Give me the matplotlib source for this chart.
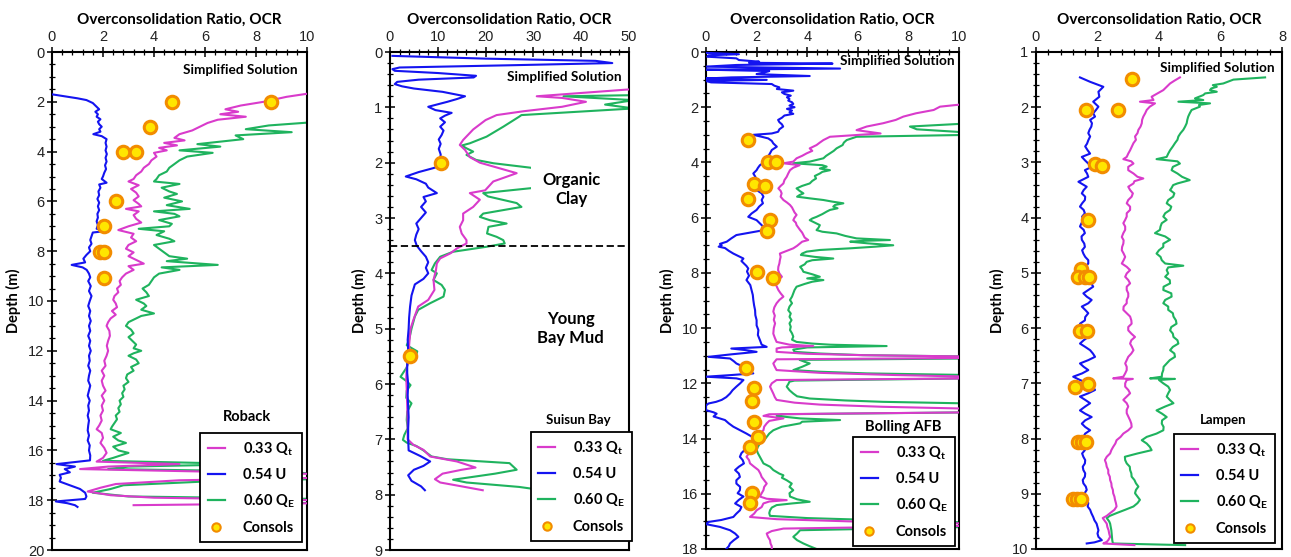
import matplotlib
matplotlib.use("Agg")
import matplotlib.pyplot as plt
from matplotlib.ticker import MultipleLocator
from matplotlib.lines import Line2D

plt.rcParams['font.family'] = ['Lato', 'DejaVu Sans']
plt.rcParams['mathtext.fontset'] = 'custom'
plt.rcParams['mathtext.rm'] = 'Lato'
plt.rcParams['mathtext.bf'] = 'Lato:bold'

# ---------------- Colours ----------------
C_QT = '#D93BCB'
C_U = '#1414F0'
C_QE = '#1FB35E'

# ---------------- Panel 1: Roback ----------------
rob_u_depth = [1.7, 1.78, 1.86, 1.93, 2.05, 2.2, 2.3, 2.4, 2.5, 2.6, 2.7, 2.8, 2.9, 3.0, 3.1, 3.2, 3.3, 3.38, 3.5, 3.65, 3.8, 3.95, 4.1, 4.25, 4.4, 4.55, 4.7, 4.85, 5.0, 5.1, 5.25, 5.32, 5.45, 5.6, 5.75, 5.9, 6.05, 6.2, 6.35, 6.5, 6.65, 6.8, 6.95, 7.1, 7.18, 7.25, 7.4, 7.55, 7.7, 7.85, 8.0, 8.15, 8.3, 8.45, 8.55, 8.65, 8.75, 8.9, 9.05, 9.2, 9.4, 9.6, 9.8, 10.0, 10.2, 10.4, 10.6, 10.8, 11.0, 11.2, 11.4, 11.6, 11.8, 12.0, 12.2, 12.4, 12.6, 12.8, 13.0, 13.2, 13.4, 13.6, 13.8, 14.0, 14.2, 14.4, 14.6, 14.8, 15.0, 15.2, 15.4, 15.6, 15.8, 16.0, 16.2, 16.4, 16.55, 16.65, 16.75, 16.88, 16.98, 17.1, 17.25, 17.4, 17.55, 17.7, 17.85, 17.95, 18.05, 18.12, 18.2, 18.27]
rob_u_ocr = [0.0, 0.5, 1.0, 1.35, 1.6, 1.75, 1.85, 1.7, 1.8, 1.75, 1.9, 1.8, 1.85, 1.95, 1.85, 1.9, 1.62, 1.95, 2.14, 2.1, 2.14, 2.1, 2.15, 2.1, 2.14, 2.08, 2.12, 2.05, 2.0, 1.95, 2.14, 1.85, 1.9, 1.82, 1.85, 1.78, 1.85, 1.8, 1.85, 1.78, 1.8, 1.75, 1.8, 1.75, 2.2, 1.6, 1.55, 1.5, 1.55, 1.45, 1.5, 1.35, 1.23, 1.3, 0.77, 1.2, 1.36, 1.45, 1.5, 1.42, 1.52, 1.45, 1.55, 1.48, 1.42, 1.5, 1.45, 1.52, 1.45, 1.5, 1.42, 1.5, 1.45, 1.52, 1.45, 1.48, 1.42, 1.5, 1.45, 1.42, 1.5, 1.45, 1.4, 1.48, 1.42, 1.45, 1.4, 1.45, 1.42, 1.4, 1.45, 1.4, 1.48, 1.45, 1.5, 1.49, 0.18, 0.9, 0.5, 0.7, 0.3, 0.35, 0.3, 0.7, 1.1, 1.3, 1.35, 1.3, 0.15, 0.6, 0.9, 1.0]

rob_qt_depth = [1.6, 1.8, 2.0, 2.15, 2.3, 2.4, 2.5, 2.6, 2.72, 2.85, 3.0, 3.15, 3.3, 3.45, 3.55, 3.65, 3.75, 3.85, 3.95, 4.05, 4.2, 4.35, 4.5, 4.65, 4.8, 4.95, 5.1, 5.2, 5.35, 5.5, 5.65, 5.8, 5.95, 6.1, 6.2, 6.3, 6.4, 6.55, 6.7, 6.85, 7.0, 7.15, 7.3, 7.45, 7.6, 7.75, 7.9, 8.05, 8.2, 8.35, 8.5, 8.6, 8.75, 8.9, 9.05, 9.2, 9.35, 9.5, 9.65, 9.8, 9.95, 10.1, 10.25, 10.4, 10.55, 10.7, 10.85, 11.0, 11.2, 11.4, 11.6, 11.8, 12.0, 12.2, 12.4, 12.6, 12.8, 13.0, 13.2, 13.4, 13.6, 13.8, 14.0, 14.2, 14.4, 14.6, 14.8, 15.0, 15.15, 15.3, 15.5, 15.7, 15.9, 16.1, 16.3, 16.45, 16.55, 16.65, 16.75, 16.85, 16.95, 17.1, 17.2, 17.35, 17.5, 17.65, 17.8, 17.9, 18.0, 18.12, 18.2]
rob_qt_ocr = [10.5, 9.2, 8.3, 7.4, 6.8, 7.3, 6.6, 7.6, 6.5, 6.1, 5.8, 5.5, 5.0, 4.8, 5.2, 4.4, 4.9, 4.2, 4.5, 4.0, 4.1, 3.9, 3.8, 3.6, 3.5, 3.3, 3.2, 3.0, 3.4, 3.1, 3.3, 3.4, 3.2, 3.4, 3.5, 2.9, 3.4, 3.2, 3.3, 3.5, 3.0, 2.6, 3.2, 3.1, 3.3, 3.0, 2.9, 3.2, 3.0, 3.3, 3.6, 3.0, 3.2, 2.9, 2.75, 2.65, 2.7, 2.55, 2.6, 2.45, 2.4, 2.5, 2.55, 2.35, 2.5, 2.3, 2.2, 2.14, 2.25, 2.27, 2.2, 2.15, 2.2, 2.14, 2.05, 2.1, 1.95, 2.05, 1.95, 2.0, 2.1, 1.95, 2.05, 1.95, 2.0, 1.9, 1.95, 1.85, 1.75, 1.95, 2.0, 1.9, 2.05, 2.14, 2.0, 1.75, 5.0, 2.2, 1.1, 6.0, 10.5, 10.5, 5.0, 2.5, 1.9, 1.4, 2.3, 4.0, 10.5, 10.5, 3.2]

rob_qe_depth = [2.8, 2.95, 3.1, 3.22, 3.35, 3.5, 3.7, 3.8, 3.95, 4.05, 4.2, 4.35, 4.5, 4.65, 4.8, 4.95, 5.1, 5.2, 5.3, 5.45, 5.6, 5.7, 5.85, 6.0, 6.15, 6.3, 6.4, 6.5, 6.6, 6.75, 6.9, 7.0, 7.1, 7.2, 7.35, 7.5, 7.6, 7.75, 7.9, 8.05, 8.2, 8.3, 8.4, 8.55, 8.65, 8.75, 8.9, 9.05, 9.2, 9.35, 9.5, 9.65, 9.8, 9.95, 10.1, 10.2, 10.35, 10.5, 10.6, 10.7, 10.85, 11.0, 11.15, 11.3, 11.45, 11.6, 11.75, 11.9, 12.0, 12.1, 12.2, 12.35, 12.5, 12.65, 12.8, 12.95, 13.1, 13.25, 13.4, 13.55, 13.7, 13.85, 14.0, 14.15, 14.3, 14.45, 14.6, 14.75, 14.9, 15.05, 15.15, 15.3, 15.45, 15.6, 15.7, 15.85, 16.0, 16.1, 16.2, 16.3, 16.42, 16.55, 16.65, 16.75, 16.85, 16.95, 17.15, 17.25, 17.4, 17.55, 17.7, 17.85, 17.95, 18.1, 18.18]
rob_qe_ocr = [10.5, 8.5, 7.6, 9.4, 7.2, 7.5, 5.7, 6.6, 5.0, 6.3, 5.3, 5.0, 4.8, 4.6, 4.5, 4.2, 4.1, 4.0, 5.0, 4.3, 4.6, 4.9, 4.4, 5.1, 4.5, 5.4, 4.0, 4.8, 5.0, 4.2, 4.7, 4.6, 3.4, 4.4, 4.1, 4.6, 4.8, 4.0, 4.2, 4.4, 4.6, 5.3, 4.5, 6.5, 4.3, 5.0, 4.2, 4.0, 3.9, 3.8, 3.55, 3.7, 3.8, 3.3, 3.6, 3.7, 3.5, 4.0, 3.5, 3.3, 3.0, 2.9, 3.1, 3.2, 3.0, 3.15, 3.3, 3.2, 3.5, 3.2, 3.0, 3.3, 3.4, 3.1, 3.2, 2.95, 2.9, 3.0, 2.8, 2.85, 2.75, 2.8, 2.65, 2.7, 2.6, 2.65, 2.5, 2.55, 2.45, 2.35, 2.3, 2.7, 2.4, 2.6, 2.9, 2.4, 2.6, 3.0, 2.7, 2.4, 2.0, 8.0, 3.0, 2.2, 9.0, 10.5, 10.5, 6.0, 2.8, 2.3, 1.6, 3.0, 10.5, 10.5, 6.0]

rob_cons_depth = [2.0, 2.0, 3.0, 4.0, 4.0, 6.0, 7.0, 8.05, 8.05, 9.08]
rob_cons_ocr = [4.7, 8.6, 3.84, 2.8, 3.3, 2.5, 2.05, 1.9, 2.05, 2.04]

# ---------------- Panel 2: Suisun Bay ----------------
sui_u_depth = [0.07, 0.12, 0.16, 0.2, 0.24, 0.28, 0.31, 0.34, 0.38, 0.43, 0.46, 0.5, 0.54, 0.58, 0.62, 0.66, 0.72, 0.8, 0.85, 0.9, 0.99, 1.05, 1.1, 1.15, 1.2, 1.27, 1.35, 1.42, 1.5, 1.58, 1.66, 1.75, 1.85, 1.95, 2.05, 2.1, 2.17, 2.25, 2.3, 2.38, 2.45, 2.55, 2.62, 2.7, 2.8, 2.9, 3.0, 3.1, 3.2, 3.3, 3.4, 3.5, 3.6, 3.7, 3.8, 3.9, 4.0, 4.1, 4.2, 4.4, 4.6, 4.8, 5.0, 5.2, 5.4, 5.6, 5.8, 6.0, 6.2, 6.4, 6.6, 6.8, 7.0, 7.2, 7.3, 7.4, 7.48, 7.55, 7.65, 7.75, 7.85, 7.92]
sui_u_ocr = [0.5, 20, 43, 46.5, 25, 2, 0.5, 1, 10, 18, 17.5, 6, 1.5, 1.0, 2.5, 5, 11, 15.7, 14, 12, 8, 9.5, 12.9, 11.5, 10.5, 11.5, 10.5, 11.2, 10.8, 10.2, 10.6, 10.2, 10.6, 10.5, 10.8, 9, 6, 3.3, 5.5, 7.5, 8, 9.8, 7, 7.5, 6.5, 7.5, 6.5, 5.5, 6.0, 5.5, 5.2, 5.6, 6.5, 7.5, 8.0, 7.5, 8.0, 7.0, 5.2, 4.5, 4.2, 4.0, 3.9, 3.7, 3.8, 3.6, 3.6, 3.8, 3.7, 3.8, 3.9, 3.8, 3.8, 3.9, 6.3, 8.4, 7.0, 5.0, 3.8, 4.5, 6.5, 7.3]

sui_qt_depth = [0.67, 0.8, 0.83, 0.9, 0.99, 1.07, 1.14, 1.23, 1.4, 1.59, 1.68, 1.77, 1.9, 2.0, 2.19, 2.34, 2.5, 2.55, 2.67, 2.8, 2.92, 3.04, 3.16, 3.28, 3.4, 3.46, 3.55, 3.64, 3.73, 3.82, 3.95, 4.12, 4.3, 4.48, 4.6, 4.72, 4.84, 5.0, 5.3, 5.5, 5.7, 5.9, 6.1, 6.4, 6.7, 7.0, 7.1, 7.19, 7.31, 7.4, 7.51, 7.55, 7.62, 7.72, 7.78, 7.85, 7.92]
sui_qt_ocr = [51, 30.7, 36, 41, 36, 28, 22.3, 20, 17.4, 15.3, 14.6, 15.7, 16.7, 18.8, 26.5, 21.6, 19.9, 16.7, 18.8, 17.4, 15.3, 15.3, 14.6, 15.0, 16.0, 16.0, 14, 12.6, 10.5, 9.8, 9.6, 9.1, 9.3, 8.0, 5.9, 5.4, 4.9, 4.3, 4.0, 4.2, 3.5, 3.4, 3.5, 3.6, 3.7, 3.7, 4.9, 7.0, 8.4, 14, 17.9, 15, 11, 9.4, 10.5, 15, 19.4]

sui_qe_depth = [0.78, 0.8, 0.87, 0.95, 1.02, 1.14, 1.17, 1.35, 1.53, 1.65, 1.69, 1.74, 1.8, 1.86, 1.95, 2.01, 2.09, 2.2, 2.3, 2.4, 2.46, 2.55, 2.61, 2.73, 2.8, 2.92, 2.98, 3.04, 3.1, 3.16, 3.28, 3.34, 3.4, 3.46, 3.52, 3.61, 3.7, 3.82, 3.94, 4.0, 4.12, 4.21, 4.3, 4.42, 4.54, 4.66, 4.78, 5.0, 5.2, 5.3, 5.41, 5.47, 5.55, 5.7, 5.87, 5.95, 6.02, 6.12, 6.25, 6.35, 6.5, 6.65, 6.8, 6.92, 7.01, 7.06, 7.12, 7.2, 7.31, 7.36, 7.43, 7.55, 7.62, 7.73, 7.78, 7.86, 7.92]
sui_qe_ocr = [51, 36.3, 51, 45, 51, 27.5, 27.0, 23.7, 20.2, 16.7, 15.0, 16.0, 17.4, 16.0, 18.0, 21.6, 29.3, 36, 40, 36, 29.6, 19.5, 20.5, 26.5, 27.5, 19.5, 18.8, 20.9, 24.4, 20.6, 20.3, 22.3, 23.7, 24.0, 20.2, 13.2, 10.5, 9.4, 8.7, 9.8, 9.1, 10.8, 11.5, 11.2, 8.4, 5.9, 5.2, 4.5, 4.0, 3.5, 5.7, 5.5, 4.0, 3.5, 2.2, 3.5, 4.3, 3.5, 3.4, 4.5, 3.6, 3.5, 3.7, 3.0, 2.7, 3.5, 5.5, 7.0, 8.7, 12, 25, 26.5, 22, 13.2, 16, 27, 32]

sui_cons_depth = [2.0, 5.5]
sui_cons_ocr = [10.7, 4.2]

# ---------------- Panel 3: Bolling AFB ----------------
bol_u_depth = [0.03, 0.08, 0.12, 0.17, 0.23, 0.29, 0.35, 0.39, 0.42, 0.47, 0.53, 0.6, 0.64, 0.69, 0.74, 0.8, 0.87, 0.92, 0.96, 1.01, 1.05, 1.1, 1.16, 1.22, 1.28, 1.34, 1.4, 1.46, 1.52, 1.58, 1.64, 1.7, 1.76, 1.82, 1.88, 1.94, 2.0, 2.06, 2.12, 2.18, 2.24, 2.3, 2.38, 2.46, 2.54, 2.62, 2.7, 2.8, 2.89, 2.95, 3.0, 3.07, 3.13, 3.22, 3.31, 3.43, 3.55, 3.67, 3.79, 3.91, 4.0, 4.1, 4.2, 4.28, 4.4, 4.52, 4.64, 4.76, 4.88, 5.0, 5.12, 5.24, 5.36, 5.48, 5.6, 5.72, 5.85, 5.97, 6.09, 6.18, 6.27, 6.36, 6.45, 6.55, 6.63, 6.75, 6.87, 6.95, 7.0, 7.05, 7.1, 7.2, 7.3, 7.4, 7.48, 7.57, 7.66, 7.75, 7.84, 7.95, 8.1, 8.26, 8.44, 8.62, 8.8, 8.98, 9.17, 9.35, 9.53, 9.71, 9.9, 10.07, 10.25, 10.43, 10.6, 10.68, 10.74, 10.8, 10.86, 10.95, 11.04, 11.1, 11.2, 11.28, 11.4, 11.52, 11.64, 11.7, 11.76, 11.82, 11.88, 12.0, 12.12, 12.25, 12.37, 12.5, 12.6, 12.67, 12.73, 12.8, 12.97, 13.05, 13.1, 13.2, 13.33, 13.45, 13.57, 13.7, 13.82, 14.0, 14.18, 14.3, 14.4, 14.53, 14.66, 14.78, 14.9, 15.02, 15.14, 15.27, 15.39, 15.51, 15.63, 15.75, 15.87, 15.98, 16.1, 16.22, 16.35, 16.48, 16.6, 16.72, 16.84, 16.95, 17.02, 17.1, 17.2, 17.32, 17.44, 17.56, 17.68, 17.8, 17.9, 18.0]
bol_u_ocr = [0.0, 1.3, 0.1, 0.05, 1.2, 1.3, 2.1, 1.7, 5.0, 1.2, 0.0, 5.3, 0.0, 2.5, 2.3, 2.0, 4.1, 1.0, 0.0, 2.4, 0.0, 0.2, 2.6, 2.7, 2.9, 2.8, 3.45, 3.0, 3.1, 3.35, 3.2, 3.3, 3.25, 3.4, 3.45, 3.3, 3.5, 3.2, 3.4, 3.3, 3.45, 3.1, 3.0, 2.85, 2.9, 3.0, 3.05, 2.9, 2.85, 2.6, 1.87, 2.2, 2.46, 2.6, 2.66, 2.8, 2.6, 2.53, 2.45, 2.4, 2.3, 2.13, 2.05, 2.0, 1.87, 1.95, 2.0, 2.1, 2.15, 2.0, 2.2, 2.27, 2.2, 2.25, 2.1, 2.0, 1.8, 1.67, 2.0, 2.1, 2.2, 2.3, 2.3, 1.7, 1.2, 1.0, 0.82, 0.55, 0.62, 0.5, 0.75, 0.9, 1.08, 1.3, 1.48, 1.4, 1.5, 1.6, 1.67, 1.62, 1.7, 1.6, 1.75, 1.8, 1.85, 1.87, 1.9, 1.94, 1.95, 2.0, 2.0, 2.07, 2.05, 2.13, 2.2, 2.4, 1.0, 1.6, 2.0, 1.0, 0.1, 0.95, 1.1, 1.2, 1.48, 1.6, 1.87, 1.0, 0.0, 1.2, 1.48, 1.35, 1.2, 1.05, 0.95, 0.8, 0.62, 0.4, 0.1, 0.0, 0.0, 0.3, 0.42, 0.3, 0.75, 0.9, 1.08, 1.35, 1.6, 1.94, 1.74, 1.6, 1.54, 1.4, 1.34, 1.45, 1.5, 1.3, 1.15, 1.3, 1.34, 1.2, 1.2, 1.35, 1.34, 1.25, 1.48, 1.3, 1.15, 1.4, 1.34, 1.2, 1.08, 0.6, 0.1, 0.0, 0.55, 0.95, 1.15, 1.28, 1.1, 0.95, 0.9, 0.8]

bol_qt_depth = [1.86, 1.98, 2.1, 2.22, 2.34, 2.46, 2.58, 2.7, 2.83, 2.95, 3.07, 3.19, 3.28, 3.37, 3.49, 3.58, 3.67, 3.76, 3.85, 3.97, 4.03, 4.1, 4.19, 4.28, 4.4, 4.52, 4.64, 4.76, 4.85, 4.94, 5.03, 5.12, 5.24, 5.36, 5.45, 5.54, 5.63, 5.72, 5.81, 5.9, 6.0, 6.09, 6.18, 6.27, 6.36, 6.45, 6.54, 6.63, 6.72, 6.81, 6.87, 6.93, 7.02, 7.11, 7.2, 7.3, 7.42, 7.54, 7.66, 7.78, 7.9, 8.02, 8.14, 8.26, 8.38, 8.5, 8.62, 8.74, 8.86, 8.98, 9.1, 9.25, 9.4, 9.55, 9.7, 9.83, 10.0, 10.2, 10.35, 10.5, 10.6, 10.65, 10.7, 10.74, 10.86, 10.93, 10.98, 11.03, 11.08, 11.13, 11.28, 11.4, 11.52, 11.62, 11.7, 11.76, 11.82, 11.88, 12.0, 12.12, 12.25, 12.37, 12.5, 12.6, 12.7, 12.77, 12.85, 12.92, 13.05, 13.12, 13.18, 13.27, 13.36, 13.45, 13.57, 13.7, 13.82, 13.94, 14.06, 14.18, 14.3, 14.4, 14.53, 14.66, 14.78, 14.9, 15.02, 15.14, 15.27, 15.39, 15.51, 15.63, 15.75, 15.87, 15.98, 16.1, 16.18, 16.23, 16.28, 16.35, 16.48, 16.6, 16.72, 16.84, 16.92, 17.0, 17.08, 17.16, 17.26, 17.35, 17.44, 17.56, 17.68, 17.8, 17.9, 18.0]
bol_qt_ocr = [10.5, 9.25, 9.0, 8.3, 7.8, 7.5, 7.0, 6.35, 5.95, 6.9, 4.9, 4.64, 4.5, 4.37, 4.1, 4.2, 3.98, 3.8, 3.58, 3.45, 3.06, 3.7, 3.45, 3.32, 3.25, 3.19, 3.1, 3.06, 2.95, 2.86, 2.95, 2.99, 2.95, 3.06, 3.2, 3.32, 3.4, 3.45, 3.5, 3.58, 3.5, 3.45, 3.55, 3.58, 3.65, 3.72, 3.8, 3.85, 3.9, 4.04, 3.8, 3.72, 3.6, 3.45, 3.2, 2.92, 2.95, 2.92, 2.9, 2.86, 2.85, 2.9, 3.0, 2.85, 2.73, 2.8, 2.86, 2.95, 3.06, 2.9, 2.79, 2.7, 2.66, 2.72, 2.68, 2.73, 2.68, 2.66, 2.72, 2.79, 3.3, 4.24, 3.0, 2.79, 2.79, 4.0, 6.2, 10.5, 10.5, 2.79, 2.66, 2.72, 2.79, 4.5, 7.5, 10.5, 10.5, 2.79, 2.6, 2.53, 2.6, 2.66, 2.72, 2.79, 3.5, 4.5, 7.0, 10.5, 10.5, 2.5, 2.27, 3.06, 2.5, 2.4, 2.3, 2.27, 2.1, 2.0, 1.9, 1.74, 1.85, 1.87, 1.7, 1.6, 1.7, 1.74, 1.9, 2.07, 2.15, 2.2, 2.3, 2.4, 2.3, 2.27, 2.2, 2.13, 2.4, 3.19, 2.5, 2.27, 2.2, 2.0, 1.9, 1.74, 2.8, 5.7, 10.5, 10.5, 3.06, 2.6, 2.4, 2.45, 2.53, 2.55, 2.6, 2.6]

bol_qe_depth = [2.58, 2.7, 2.8, 2.89, 2.95, 3.0, 3.07, 3.19, 3.28, 3.37, 3.49, 3.58, 3.67, 3.76, 3.85, 3.97, 4.03, 4.1, 4.15, 4.22, 4.28, 4.34, 4.4, 4.49, 4.58, 4.67, 4.76, 4.85, 4.94, 5.03, 5.12, 5.18, 5.24, 5.3, 5.36, 5.42, 5.48, 5.54, 5.6, 5.66, 5.72, 5.78, 5.87, 5.97, 6.03, 6.09, 6.18, 6.27, 6.36, 6.45, 6.51, 6.57, 6.66, 6.75, 6.81, 6.84, 6.87, 6.93, 7.0, 7.05, 7.11, 7.17, 7.23, 7.3, 7.35, 7.42, 7.48, 7.54, 7.6, 7.69, 7.78, 7.87, 7.96, 8.05, 8.14, 8.2, 8.26, 8.32, 8.4, 8.5, 8.62, 8.74, 8.86, 8.98, 9.1, 9.22, 9.35, 9.47, 9.59, 9.71, 9.83, 9.95, 10.07, 10.19, 10.31, 10.42, 10.5, 10.56, 10.6, 10.65, 10.7, 10.78, 10.86, 10.92, 10.98, 11.03, 11.1, 11.15, 11.22, 11.28, 11.4, 11.52, 11.58, 11.64, 11.7, 11.82, 11.9, 11.94, 12.03, 12.12, 12.25, 12.37, 12.47, 12.55, 12.62, 12.67, 12.73, 13.05, 13.12, 13.18, 13.27, 13.33, 13.39, 13.45, 13.57, 13.7, 13.82, 13.94, 14.06, 14.18, 14.3, 14.4, 14.53, 14.66, 14.78, 14.9, 15.02, 15.14, 15.27, 15.33, 15.42, 15.51, 15.63, 15.75, 15.87, 15.98, 16.1, 16.2, 16.29, 16.35, 16.41, 16.5, 16.6, 16.7, 16.8, 16.88, 16.96, 17.04, 17.2, 17.32, 17.44, 17.56, 17.68, 17.8, 17.9, 18.0]
bol_qe_ocr = [10.5, 8.06, 8.33, 9.9, 10.5, 10.5, 5.95, 5.56, 5.45, 5.4, 5.16, 5.05, 4.9, 4.75, 4.64, 4.1, 3.45, 4.6, 4.77, 4.5, 4.9, 4.6, 4.5, 4.3, 4.35, 4.2, 4.1, 3.8, 3.58, 3.7, 3.85, 3.7, 3.6, 4.1, 4.64, 5.0, 5.43, 5.1, 5.03, 5.2, 4.9, 4.77, 4.6, 4.37, 4.2, 4.1, 4.3, 4.5, 4.45, 4.37, 4.6, 5.16, 5.5, 5.95, 7.27, 6.2, 5.7, 6.4, 7.4, 6.7, 5.7, 4.5, 3.98, 3.8, 3.75, 4.3, 5.03, 4.2, 3.98, 3.9, 3.72, 3.8, 3.85, 4.2, 4.5, 4.0, 4.64, 4.2, 3.9, 3.58, 3.5, 3.45, 3.4, 3.32, 3.4, 3.3, 3.25, 3.35, 3.3, 3.38, 3.3, 3.35, 3.32, 3.4, 3.45, 3.4, 3.58, 4.2, 4.9, 7.14, 4.0, 3.45, 3.5, 4.5, 6.2, 10.5, 10.5, 3.7, 3.9, 4.1, 3.8, 3.45, 4.5, 6.35, 10.5, 10.5, 3.5, 3.3, 3.25, 3.19, 3.3, 3.45, 3.6, 4.1, 5.5, 7.0, 10.5, 10.5, 3.0, 2.79, 3.72, 5.3, 3.8, 3.72, 3.0, 2.66, 2.5, 2.4, 2.3, 2.13, 2.05, 2.0, 2.05, 2.13, 2.2, 2.27, 2.53, 2.66, 2.9, 3.06, 3.0, 3.19, 3.39, 3.3, 3.45, 3.3, 3.32, 3.6, 4.1, 3.4, 2.79, 2.6, 2.53, 2.5, 2.53, 4.0, 7.0, 10.5, 10.5, 3.72, 3.6, 3.45, 3.6, 3.85, 4.1, 4.37]

bol_cons_depth = [3.19, 4.0, 4.0, 4.78, 4.84, 5.34, 6.09, 6.47, 7.98, 8.2, 11.44, 12.18, 12.63, 13.4, 13.94, 14.3, 15.97, 16.35]
bol_cons_ocr = [1.65, 2.46, 2.77, 1.9, 2.33, 1.65, 2.53, 2.4, 2.0, 2.66, 1.57, 1.91, 1.8, 1.91, 2.07, 1.74, 1.8, 1.74]

# ---------------- Panel 4: Lampen ----------------
lam_u_depth = [1.46, 1.54, 1.63, 1.72, 1.81, 1.9, 1.99, 2.05, 2.11, 2.17, 2.23, 2.29, 2.35, 2.41, 2.47, 2.53, 2.6, 2.66, 2.71, 2.78, 2.84, 2.9, 2.96, 3.02, 3.08, 3.14, 3.2, 3.26, 3.35, 3.44, 3.5, 3.56, 3.62, 3.68, 3.74, 3.8, 3.86, 3.92, 3.98, 4.04, 4.1, 4.16, 4.22, 4.28, 4.34, 4.4, 4.47, 4.53, 4.59, 4.65, 4.71, 4.77, 4.83, 4.9, 5.0, 5.07, 5.13, 5.19, 5.25, 5.31, 5.37, 5.43, 5.49, 5.55, 5.61, 5.67, 5.73, 5.8, 5.86, 5.92, 5.98, 6.04, 6.1, 6.16, 6.22, 6.28, 6.34, 6.4, 6.46, 6.52, 6.58, 6.64, 6.7, 6.76, 6.82, 6.88, 6.94, 7.0, 7.06, 7.12, 7.18, 7.24, 7.3, 7.36, 7.42, 7.49, 7.55, 7.61, 7.67, 7.73, 7.79, 7.85, 7.91, 7.97, 8.03, 8.09, 8.15, 8.21, 8.27, 8.33, 8.39, 8.45, 8.51, 8.57, 8.63, 8.69, 8.75, 8.81, 8.87, 8.93, 8.99, 9.05, 9.11, 9.17, 9.23, 9.29, 9.35, 9.42, 9.48, 9.54, 9.6, 9.66, 9.72, 9.78, 9.84, 9.88, 9.9]
lam_u_ocr = [1.43, 1.76, 2.19, 2.03, 2.06, 1.86, 2.03, 1.95, 1.86, 1.92, 1.76, 1.82, 1.8, 1.74, 1.7, 1.76, 1.7, 1.66, 1.6, 1.68, 1.76, 1.49, 1.59, 1.7, 1.81, 1.59, 1.66, 1.7, 1.38, 1.65, 1.55, 1.49, 1.6, 1.59, 1.5, 1.43, 1.55, 1.59, 1.5, 1.54, 1.48, 1.43, 1.55, 1.59, 1.48, 1.49, 1.57, 1.59, 1.5, 1.54, 1.6, 1.7, 1.7, 1.6, 1.55, 1.6, 1.65, 1.8, 1.86, 1.7, 1.54, 1.65, 1.81, 1.7, 1.49, 1.6, 1.7, 1.6, 1.59, 1.43, 1.55, 1.65, 1.6, 1.7, 1.55, 1.43, 1.6, 1.76, 1.85, 1.92, 1.7, 1.43, 1.55, 1.7, 1.5, 1.21, 1.43, 1.7, 1.85, 1.92, 1.7, 1.43, 1.6, 1.76, 1.6, 1.43, 1.6, 1.81, 1.6, 1.49, 1.6, 1.76, 1.6, 1.54, 1.45, 1.32, 1.45, 1.59, 1.5, 1.54, 1.6, 1.59, 1.52, 1.54, 1.6, 1.59, 1.52, 1.54, 1.62, 1.65, 1.58, 1.59, 1.66, 1.7, 1.68, 1.76, 1.8, 1.86, 1.9, 1.97, 2.0, 2.03, 2.0, 2.03, 2.14, 1.9, 1.65]

lam_qt_depth = [1.46, 1.52, 1.57, 1.63, 1.69, 1.75, 1.81, 1.87, 1.9, 1.93, 1.99, 2.05, 2.11, 2.17, 2.23, 2.29, 2.35, 2.41, 2.47, 2.53, 2.59, 2.65, 2.71, 2.78, 2.84, 2.9, 2.94, 2.98, 3.02, 3.08, 3.14, 3.2, 3.26, 3.29, 3.34, 3.38, 3.44, 3.5, 3.56, 3.62, 3.68, 3.74, 3.8, 3.86, 3.92, 3.98, 4.04, 4.1, 4.16, 4.22, 4.28, 4.35, 4.41, 4.47, 4.53, 4.59, 4.65, 4.71, 4.77, 4.83, 4.89, 4.95, 5.01, 5.07, 5.13, 5.19, 5.25, 5.31, 5.37, 5.43, 5.49, 5.55, 5.61, 5.67, 5.73, 5.79, 5.86, 5.92, 5.98, 6.04, 6.1, 6.16, 6.22, 6.28, 6.34, 6.4, 6.46, 6.52, 6.58, 6.64, 6.7, 6.76, 6.82, 6.88, 6.91, 6.92, 6.94, 7.0, 7.06, 7.12, 7.18, 7.24, 7.3, 7.36, 7.42, 7.48, 7.54, 7.6, 7.67, 7.73, 7.79, 7.85, 7.91, 7.97, 8.03, 8.09, 8.15, 8.21, 8.27, 8.33, 8.39, 8.45, 8.51, 8.57, 8.63, 8.69, 8.75, 8.81, 8.87, 8.93, 8.99, 9.05, 9.11, 9.17, 9.23, 9.29, 9.35, 9.4, 9.44, 9.5, 9.54, 9.6, 9.66, 9.72, 9.78, 9.84, 9.87, 9.9, 9.93]
lam_qt_ocr = [4.68, 4.5, 4.36, 4.25, 4.14, 3.95, 3.76, 3.82, 3.38, 3.87, 3.7, 3.6, 3.55, 3.49, 3.45, 3.44, 3.4, 3.33, 3.3, 3.22, 3.25, 3.17, 3.12, 3.06, 3.0, 2.95, 2.84, 3.1, 3.17, 3.0, 3.0, 3.17, 3.3, 3.49, 3.2, 3.17, 3.0, 3.06, 3.15, 3.11, 3.0, 2.95, 3.06, 3.06, 2.95, 2.95, 2.9, 2.84, 2.9, 2.9, 2.84, 2.79, 2.85, 2.84, 2.8, 2.79, 2.85, 2.9, 2.85, 2.79, 2.95, 3.06, 2.95, 2.9, 3.0, 3.06, 2.95, 2.95, 3.0, 3.0, 2.95, 2.95, 2.85, 2.84, 2.95, 3.06, 3.1, 3.11, 3.0, 3.0, 3.1, 3.22, 3.1, 3.06, 3.12, 3.17, 3.1, 3.0, 2.95, 2.9, 2.95, 2.95, 2.9, 2.84, 2.51, 3.15, 2.95, 2.9, 2.9, 3.0, 3.06, 2.95, 2.84, 2.95, 3.0, 2.95, 2.95, 3.0, 3.06, 3.1, 3.11, 3.0, 2.84, 2.75, 2.62, 2.58, 2.51, 2.45, 2.41, 2.3, 2.24, 2.28, 2.3, 2.35, 2.35, 2.4, 2.41, 2.45, 2.46, 2.5, 2.51, 2.55, 2.57, 2.6, 2.62, 2.55, 2.41, 2.3, 2.17, 2.25, 2.3, 2.32, 2.36, 2.38, 2.41, 2.35, 2.3, 2.19, 3.2]

lam_qe_depth = [1.46, 1.5, 1.57, 1.6, 1.63, 1.66, 1.69, 1.72, 1.75, 1.78, 1.84, 1.87, 1.9, 1.93, 1.96, 1.99, 2.05, 2.11, 2.17, 2.23, 2.29, 2.35, 2.41, 2.47, 2.53, 2.59, 2.65, 2.71, 2.78, 2.84, 2.9, 2.94, 2.98, 3.02, 3.08, 3.14, 3.2, 3.26, 3.32, 3.38, 3.41, 3.47, 3.5, 3.56, 3.62, 3.68, 3.74, 3.8, 3.86, 3.92, 3.98, 4.04, 4.1, 4.16, 4.22, 4.28, 4.34, 4.4, 4.47, 4.53, 4.59, 4.65, 4.71, 4.77, 4.83, 4.87, 4.9, 4.95, 5.01, 5.07, 5.13, 5.19, 5.25, 5.31, 5.37, 5.43, 5.49, 5.55, 5.61, 5.67, 5.73, 5.79, 5.86, 5.92, 5.98, 6.04, 6.1, 6.16, 6.22, 6.28, 6.34, 6.4, 6.46, 6.52, 6.58, 6.64, 6.7, 6.76, 6.82, 6.88, 6.91, 6.92, 6.94, 7.0, 7.06, 7.12, 7.18, 7.24, 7.3, 7.36, 7.42, 7.49, 7.55, 7.61, 7.67, 7.73, 7.79, 7.85, 7.91, 7.97, 8.03, 8.09, 8.15, 8.21, 8.27, 8.33, 8.39, 8.45, 8.51, 8.57, 8.63, 8.69, 8.75, 8.81, 8.87, 8.93, 8.99, 9.05, 9.11, 9.17, 9.23, 9.29, 9.35, 9.4, 9.44, 9.5, 9.54, 9.6, 9.66, 9.72, 9.78, 9.84, 9.9, 9.93]
lam_qe_ocr = [7.45, 6.42, 6.09, 5.75, 5.88, 5.7, 5.66, 5.88, 5.5, 5.44, 5.17, 5.44, 4.63, 5.66, 5.3, 5.33, 5.06, 5.0, 4.95, 4.92, 4.9, 4.85, 4.79, 4.7, 4.63, 4.6, 4.52, 4.45, 4.36, 4.3, 4.25, 3.92, 4.6, 4.68, 4.45, 4.41, 4.6, 4.75, 5.0, 4.6, 4.46, 4.4, 4.36, 4.5, 4.46, 4.3, 4.25, 4.4, 4.36, 4.2, 4.14, 4.25, 4.09, 4.05, 4.03, 3.87, 4.2, 4.36, 4.14, 4.14, 4.0, 3.92, 4.05, 4.09, 4.2, 4.79, 4.3, 4.25, 4.3, 4.2, 4.35, 4.36, 4.15, 4.14, 4.4, 4.41, 4.2, 4.14, 4.3, 4.3, 4.45, 4.47, 4.55, 4.57, 4.4, 4.36, 4.45, 4.47, 4.6, 4.63, 4.45, 4.36, 4.5, 4.52, 4.35, 4.25, 4.15, 4.14, 4.1, 4.09, 3.71, 4.52, 4.0, 4.14, 4.3, 4.36, 4.3, 4.25, 4.35, 4.47, 4.2, 3.92, 4.1, 4.25, 4.1, 4.09, 4.15, 4.14, 3.92, 3.6, 3.44, 3.6, 3.7, 3.76, 3.3, 2.89, 2.9, 2.95, 3.05, 3.06, 3.1, 3.11, 3.2, 3.25, 3.33, 3.25, 3.22, 3.3, 3.38, 3.3, 3.17, 2.9, 2.62, 2.4, 2.3, 2.38, 2.41, 2.43, 2.45, 2.46, 2.47, 2.48, 2.5, 4.85]

lam_cons_depth = [1.48, 2.05, 2.05, 3.03, 3.06, 4.04, 4.93, 5.07, 5.07, 5.07, 6.05, 6.05, 7.06, 7.02, 8.06, 8.06, 8.06, 9.09, 9.09, 9.09]
lam_cons_ocr = [3.13, 1.63, 2.68, 1.92, 2.14, 1.7, 1.46, 1.38, 1.59, 1.73, 1.43, 1.67, 1.27, 1.7, 1.38, 1.49, 1.63, 1.19, 1.32, 1.46]

# ---------------- Panel definitions ----------------
site_names = ['Roback', 'Suisun Bay', 'Bolling AFB', 'Lampen']
legend_labels = [r'0.33 Q$_\mathbf{t}$', '0.54 U', r'0.60 Q$_\mathbf{E}$', 'Consols']

panels = [
    dict(name='Roback', u=(rob_u_depth, rob_u_ocr), qt=(rob_qt_depth, rob_qt_ocr),
         qe=(rob_qe_depth, rob_qe_ocr), cons=(rob_cons_depth, rob_cons_ocr),
         rect=[52, 52, 307, 550], xlim=(0, 10), ylim=(20, 0), xmaj=2, xmin=0.4, ymaj=2, ymin=0.5,
         leg_anchor=(0.98, 0.016), title_xy=(0.765, 0.267), title_fs=10.5,
         ss_xy=(0.965, 0.964)),
    dict(name='Suisun Bay', u=(sui_u_depth, sui_u_ocr), qt=(sui_qt_depth, sui_qt_ocr),
         qe=(sui_qe_depth, sui_qe_ocr), cons=(sui_cons_depth, sui_cons_ocr),
         rect=[390, 52, 629, 550], xlim=(0, 50), ylim=(9, 0), xmaj=10, xmin=2, ymaj=1, ymin=0.2,
         leg_anchor=(1.013, 0.018), title_xy=(0.787, 0.261), title_fs=9.5,
         ss_xy=(0.971, 0.95)),
    dict(name='Bolling AFB', u=(bol_u_depth, bol_u_ocr), qt=(bol_qt_depth, bol_qt_ocr),
         qe=(bol_qe_depth, bol_qe_ocr), cons=(bol_cons_depth, bol_cons_ocr),
         rect=[706, 52, 959, 549], xlim=(0, 10), ylim=(18, 0), xmaj=2, xmin=0.4, ymaj=2, ymin=0.5,
         leg_anchor=(0.984, 0.006), title_xy=(0.779, 0.245), title_fs=10.5,
         ss_xy=(0.984, 0.982)),
    dict(name='Lampen', u=(lam_u_depth, lam_u_ocr), qt=(lam_qt_depth, lam_qt_ocr),
         qe=(lam_qe_depth, lam_qe_ocr), cons=(lam_cons_depth, lam_cons_ocr),
         rect=[1036, 52, 1282, 549], xlim=(0, 8), ylim=(10, 1), xmaj=2, xmin=0.4, ymaj=1, ymin=0.2,
         leg_anchor=(0.972, 0.012), title_xy=(0.76, 0.26), title_fs=9.5,
         ss_xy=(0.972, 0.968)),
]

W, H = 1291, 557
fig = plt.figure(figsize=(W / 100, H / 100), dpi=100)
fig.patch.set_facecolor('white')

for p in panels:
    x0, y0, x1, y1 = p['rect']
    ax = fig.add_axes([x0 / W, 1 - y1 / H, (x1 - x0) / W, (y1 - y0) / H])
    ax.plot(p['qt'][1], p['qt'][0], color=C_QT, lw=1.5, zorder=3)
    ax.plot(p['u'][1], p['u'][0], color=C_U, lw=1.5, zorder=4)
    ax.plot(p['qe'][1], p['qe'][0], color=C_QE, lw=1.5, zorder=2)
    ax.plot(p['cons'][1], p['cons'][0], ls='none', marker='o', ms=9,
            mfc='#FFE600', mec='#F28C00', mew=2.2, zorder=6)

    ax.set_xlim(*p['xlim'])
    ax.set_ylim(*p['ylim'])
    ax.xaxis.tick_top()
    ax.xaxis.set_label_position('top')
    ax.xaxis.set_major_locator(MultipleLocator(p['xmaj']))
    ax.xaxis.set_minor_locator(MultipleLocator(p['xmin']))
    ax.yaxis.set_major_locator(MultipleLocator(p['ymaj']))
    ax.yaxis.set_minor_locator(MultipleLocator(p['ymin']))
    ax.tick_params(which='major', direction='inout', length=7, width=1.1,
                   labelsize=10.5, labelcolor='#222222', pad=2)
    ax.tick_params(which='minor', direction='inout', length=4, width=0.9)
    ax.tick_params(axis='x', which='both', top=True, bottom=False)
    ax.tick_params(axis='y', which='both', left=True, right=False)
    for lab in ax.get_xticklabels() + ax.get_yticklabels():
        lab.set_fontfamily(['Liberation Sans', 'DejaVu Sans'])
    for s in ax.spines.values():
        s.set_linewidth(1.5)
        s.set_color('black')

    ax.set_xlabel('Overconsolidation Ratio, OCR', fontsize=11, fontweight='bold', labelpad=5)
    ax.set_ylabel('Depth (m)', fontsize=10.5, fontweight='bold', labelpad=5)

    ax.text(p['ss_xy'][0], p['ss_xy'][1], 'Simplified Solution', transform=ax.transAxes,
            ha='right', va='center', fontsize=9.8, fontweight='bold', zorder=8)

    handles = [Line2D([], [], color=C_QT, lw=1.6),
               Line2D([], [], color=C_U, lw=1.6),
               Line2D([], [], color=C_QE, lw=1.6),
               Line2D([], [], ls='none', marker='o', ms=6, mfc='#FFE600', mec='#F28C00', mew=1.5)]
    leg = ax.legend(handles, legend_labels, loc='lower right', bbox_to_anchor=p['leg_anchor'],
                    borderaxespad=0, frameon=True, fancybox=False, framealpha=1,
                    edgecolor='black', prop={'family': 'Lato', 'weight': 'bold', 'size': 10.5},
                    labelspacing=0.72, handlelength=1.2, handletextpad=1.2, borderpad=0.5)
    leg.get_frame().set_linewidth(1.3)
    leg.set_zorder(10)

    ax.text(p['title_xy'][0], p['title_xy'][1], p['name'], transform=ax.transAxes,
            ha='center', va='center', fontsize=p['title_fs'], fontweight='bold', zorder=9)

    if p['name'] == 'Suisun Bay':
        ax.axhline(3.5, color='black', ls=(0, (4, 2)), lw=1.3, zorder=5)
        ax.text(38, 2.49, 'Organic\nClay', ha='center', va='center', fontsize=12,
                fontweight='bold', linespacing=1.25, zorder=7,
                bbox=dict(boxstyle='square,pad=0.7', facecolor='white', edgecolor='none'))
        ax.text(37.8, 5.0, 'Young\nBay Mud', ha='center', va='center', fontsize=12,
                fontweight='bold', linespacing=1.25, zorder=7)

fig.savefig('out.png', dpi=100, facecolor='white')
